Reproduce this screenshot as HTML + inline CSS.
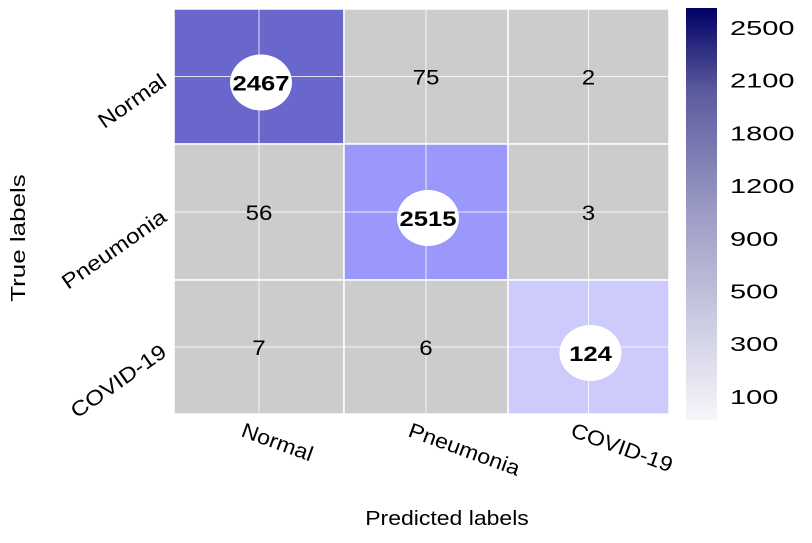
<!DOCTYPE html>
<html><head><meta charset="utf-8"><style>
body{margin:0;background:#fff;}
svg{display:block;font-family:"Liberation Sans",Arial,sans-serif;}
</style></head><body>
<svg id="c" width="812" height="543">
<defs><linearGradient id="g" x1="0" y1="1" x2="0" y2="0">
<stop offset="0" stop-color="#f6f6fb"/><stop offset="0.5" stop-color="#9d9dc6"/><stop offset="0.8" stop-color="#5a5a9e"/><stop offset="1" stop-color="#000066"/></linearGradient></defs>
</svg>
<script>
const classes=["Normal","Pneumonia","COVID-19"];
const row0=[2467,75,2];
const row1=[56,2515,3];
const row2=[7,6,124];
const diagColors=["#6a67cc","#9a98fb","#cccbfc"];
const cbTicks=["2500","2100","1800","1200","900","500","300","100"];
const values=[row0,row1,row2];
const NS="http://www.w3.org/2000/svg";
const svg=document.getElementById('c');
const colX=[174,344,508,669], rowY=[9,144,280,414];
function mk(t,a,p){const e=document.createElementNS(NS,t);for(const k in a)e.setAttribute(k,a[k]);(p||svg).appendChild(e);return e;}
function txt(s,x,y,size,sx,rot,anchor,weight){
  const t=mk('text',{x:0,y:0,'text-anchor':anchor||'middle','font-size':size,'font-weight':weight||'normal',fill:'#000',
    transform:`translate(${x} ${y}) rotate(${rot||0}) scale(${sx} 1)`});
  t.textContent=s;return t;
}
values.forEach((row,i)=>row.forEach((v,j)=>{
  const x0=colX[j],x1=colX[j+1],y0=rowY[i],y1=rowY[i+1];
  const r=mk('rect',{x:x0,y:y0,width:x1-x0,height:y1-y0,fill:i===j?diagColors[i]:'#cccccc',stroke:'#fff','stroke-width':1.5});
  
  
}));
for(let k=0;k<3;k++){
  const cx=(colX[k]+colX[k+1])/2, cy=(rowY[k]+rowY[k+1])/2;
  const l1=mk('line',{x1:cx,x2:cx,y1:rowY[0],y2:rowY[3],stroke:'#fff','stroke-width':1,opacity:0.8});
  
  
  const l2=mk('line',{x1:colX[0],x2:colX[3],y1:cy,y2:cy,stroke:'#fff','stroke-width':1,opacity:0.8});
  
  
}
values.forEach((row,i)=>row.forEach((v,j)=>{
  const cx=(colX[j]+colX[j+1])/2, cy=(rowY[i]+rowY[i+1])/2;
  let t;
  if(i===j){
    const e=mk('ellipse',{cx:cx+2,cy:cy+6,rx:31,ry:28,fill:'#fff'});
    
    
    t=txt(v,cx+2,cy+14,21,1.22,0,'middle','bold');
  } else {
    t=txt(v,cx,cy+8,21,1.15,0,'middle');
  }
  
  
}));
classes.forEach((c,i)=>{
  const cy=(rowY[i]+rowY[i+1])/2+8;
  const t=txt(c,168,cy,21,1.15,-35,'end');
  
  
  const cx=(colX[i]+colX[i+1])/2-19;
  const t2=txt(c,cx,436,21,1.1,20,'start');
  
  
});
const xt=txt('Predicted labels',447,525,20,1.15,0,'middle');


const yt=txt('True  labels',25,238,20,1.3,-90,'middle');


const cb=mk('rect',{x:686,y:8,width:31,height:412,fill:'url(#g)'});


cbTicks.forEach((s,k)=>{
  const t=txt(s,730,35+k*52.7,20,1.45,0,'start');
  
  
});
</script>
</body></html>
